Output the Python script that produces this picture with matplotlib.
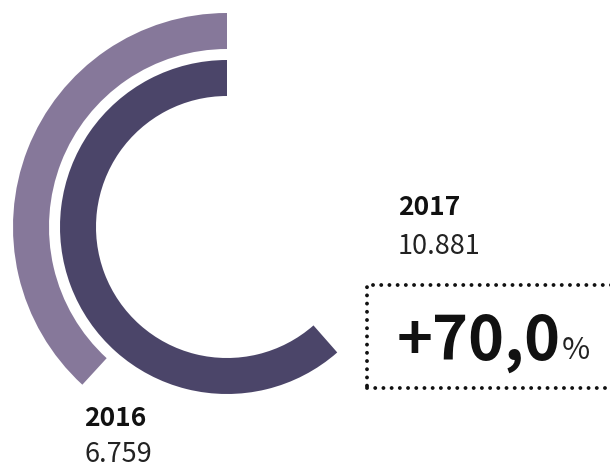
import matplotlib
matplotlib.use("Agg")
import matplotlib.pyplot as plt
from matplotlib.patches import Wedge, Rectangle

years = ["2016", "2017"]
values = [6.759, 10.881]
value_labels = ["6.759", "10.881"]
change_label = "+70,0"
full_circle = 17.7  # value corresponding to a full 360 degree ring

colors = ["#86789a", "#4b4569"]

W, H = 610, 468
fig = plt.figure(figsize=(W / 100, H / 100), dpi=100)
ax = fig.add_axes([0, 0, 1, 1])
ax.set_xlim(0, W)
ax.set_ylim(0, H)
ax.set_aspect("equal")
ax.axis("off")

font = ["Noto Sans CJK JP", "DejaVu Sans"]

def py(y):
    return H - y

cx, cy = 227, py(227)
radii = [214, 167]
ring_w = 36
for v, r, c in zip(values, radii, colors):
    sweep = v / full_circle * 360
    ax.add_patch(Wedge((cx, cy), r, 90, 90 + sweep, width=ring_w, facecolor=c, edgecolor="none"))

# labels
ax.text(84, py(426), years[0], fontsize=19, fontweight="bold", family=font, color="#111111", va="baseline", ha="left")
ax.text(84, py(462), value_labels[0], fontsize=19.5, family=font, color="#222222", va="baseline", ha="left")
ax.text(398, py(215), years[1], fontsize=19, fontweight="bold", family=font, color="#111111", va="baseline", ha="left")
ax.text(398, py(254), value_labels[1], fontsize=19.5, family=font, color="#222222", va="baseline", ha="left")

ax.text(397, py(360), change_label, fontsize=44, fontweight="bold", family=font, color="#111111", va="baseline", ha="left")
ax.text(562, py(359), "%", fontsize=22, family=font, color="#222222", va="baseline", ha="left")

box = Rectangle((367, py(388)), 260, 103, fill=False, edgecolor="#111111",
                linewidth=2.8, linestyle=(0, (0.01, 2.1)), clip_on=True)
box.set_capstyle("round")
ax.add_patch(box)

fig.savefig("out.png", dpi=100)
